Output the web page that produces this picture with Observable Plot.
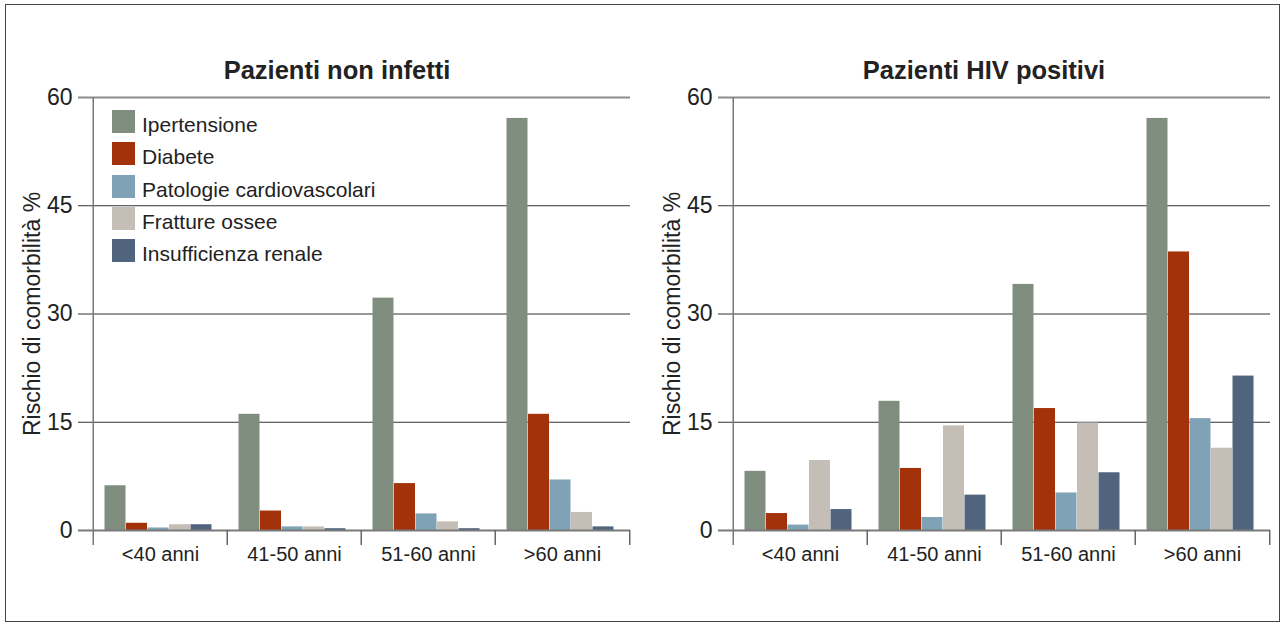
<!DOCTYPE html>
<html>
<head>
<meta charset="utf-8">
<script src="https://cdn.jsdelivr.net/npm/d3@7"></script>
<script src="https://cdn.jsdelivr.net/npm/@observablehq/plot@0.6"></script>
<style>
  html, body { margin: 0; padding: 0; background: #fff; }
  body { width: 1282px; height: 624px; position: relative; overflow: hidden;
         font-family: "Liberation Sans", Arial, Helvetica, sans-serif; color: #222; }
  #frame { position: absolute; left: 5px; top: 4px; width: 1273px; height: 616px;
           border: 1.5px solid #444; box-sizing: content-box; }
  .panel { position: absolute; top: 0; }
  .title { position: absolute; width: 400px; text-align: center; font-weight: bold;
           font-size: 25.5px; line-height: 30px; top: 55px; color: #222; }
  .legend { position: absolute; left: 112px; top: 110px; }
  .legend .item { position: absolute; left: 0; height: 23px; white-space: nowrap; }
  .legend .sw { position: absolute; left: 0; top: 0; width: 23px; height: 23px; }
  .legend .lb { position: absolute; left: 30px; top: 2px; font-size: 21px; line-height: 26px; color: #222; }
</style>
</head>
<body>
<div id="frame"></div>
<div id="left" class="panel" style="left:0px"></div>
<div id="right" class="panel" style="left:640px"></div>
<div class="title" style="left:137px">Pazienti non infetti</div>
<div class="title" style="left:784px">Pazienti HIV positivi</div>
<div id="legend" class="legend"></div>
<script>
// ---- data ----
const categories = ["<40 anni", "41-50 anni", "51-60 anni", ">60 anni"];
const seriesNames = ["Ipertensione", "Diabete", "Patologie cardiovascolari", "Fratture ossee", "Insufficienza renale"];
const seriesColors = ["#7f8e7e", "#a3320b", "#7fa2b6", "#c5beb7", "#50647e"];
const yTicks = [0, 15, 30, 45, 60];
const yLabel = "Rischio di comorbilità %";

// Pazienti non infetti (per series, by category)
const nonInfettiIpertensione = [6.2, 16.1, 32.2, 57.1];
const nonInfettiDiabete = [1.0, 2.7, 6.5, 16.1];
const nonInfettiCardio = [0.35, 0.5, 2.3, 7.0];
const nonInfettiFratture = [0.8, 0.5, 1.2, 2.5];
const nonInfettiRenale = [0.8, 0.25, 0.25, 0.5];

// Pazienti HIV positivi
const hivIpertensione = [8.2, 17.9, 34.1, 57.1];
const hivDiabete = [2.35, 8.6, 16.9, 38.6];
const hivCardio = [0.75, 1.8, 5.2, 15.5];
const hivFratture = [9.7, 14.5, 14.9, 11.4];
const hivRenale = [2.9, 4.9, 8.0, 21.4];

function rows(lists) {
  const out = [];
  lists.forEach((vals, si) => vals.forEach((v, ci) => out.push({cat: categories[ci], series: seriesNames[si], value: v})));
  return out;
}
const dataNon = rows([nonInfettiIpertensione, nonInfettiDiabete, nonInfettiCardio, nonInfettiFratture, nonInfettiRenale]);
const dataHiv = rows([hivIpertensione, hivDiabete, hivCardio, hivFratture, hivRenale]);

// ---- layout ----
const W = 640, H = 580, mL = 92, mR = 10, mT = 97, mB = 50;
const bw = (W - mL - mR) / categories.length;   // band width
const barW = 21.5, padL = 11.5;
const font = '"Liberation Sans", Arial, Helvetica, sans-serif';

function panel(data) {
  const marks = [
    Plot.ruleY([15, 30, 45], {y: d => d, stroke: "#333", strokeWidth: 1, insetLeft: -14}),
    Plot.ruleY([60], {y: d => d, stroke: "#8c8c8c", strokeWidth: 2, insetLeft: -14}),
  ];
  seriesNames.forEach((s, i) => {
    marks.push(Plot.barY(data.filter(d => d.series === s), {
      x: "cat", y: "value", fill: "series",
      insetLeft: padL + i * barW, insetRight: bw - padL - (i + 1) * barW
    }));
  });
  marks.push(
    // baseline
    Plot.ruleY([0], {y: d => d, stroke: "#7a7a7a", strokeWidth: 2, insetLeft: -14}),
    // y axis line
    Plot.ruleX([categories[0]], {x: d => d, dx: -bw / 2, y1: () => 60, y2: () => 0, insetBottom: -15, stroke: "#777", strokeWidth: 1.5}),
    // category separators
    Plot.ruleX(categories.slice(1), {x: d => d, dx: -bw / 2, y1: () => 0, y2: () => 0, insetBottom: -15, stroke: "#666", strokeWidth: 1.5}),
    Plot.ruleX([categories[categories.length - 1]], {x: d => d, dx: bw / 2, y1: () => 0, y2: () => 0, insetBottom: -15, stroke: "#666", strokeWidth: 1.5}),
    // y tick labels
    Plot.text(yTicks, {y: d => d, text: d => String(d), frameAnchor: "left", dx: -20, textAnchor: "end", fontSize: 23, fill: "#222"}),
    // category labels
    Plot.text(categories, {x: d => d, text: d => d, frameAnchor: "bottom", dy: 30, fontSize: 20, fill: "#222"}),
    // y label
    Plot.text([yLabel], {text: d => d, frameAnchor: "left", dx: -60, rotate: -90, textAnchor: "middle", fontSize: 23, fill: "#222"})
  );
  return Plot.plot({
    width: W, height: H,
    marginLeft: mL, marginRight: mR, marginTop: mT, marginBottom: mB,
    style: {fontFamily: font, background: "transparent", overflow: "visible"},
    x: {type: "band", domain: categories, padding: 0, axis: null},
    y: {domain: [0, 60], axis: null},
    color: {domain: seriesNames, range: seriesColors},
    marks
  });
}

document.getElementById("left").appendChild(panel(dataNon));
document.getElementById("right").appendChild(panel(dataHiv));

// legend
const lg = document.getElementById("legend");
seriesNames.forEach((s, i) => {
  const item = document.createElement("div");
  item.className = "item";
  item.style.top = (i * 32.3) + "px";
  const sw = document.createElement("div");
  sw.className = "sw"; sw.style.background = seriesColors[i];
  const lb = document.createElement("div");
  lb.className = "lb"; lb.textContent = s;
  item.appendChild(sw); item.appendChild(lb);
  lg.appendChild(item);
});
</script>
</body>
</html>
